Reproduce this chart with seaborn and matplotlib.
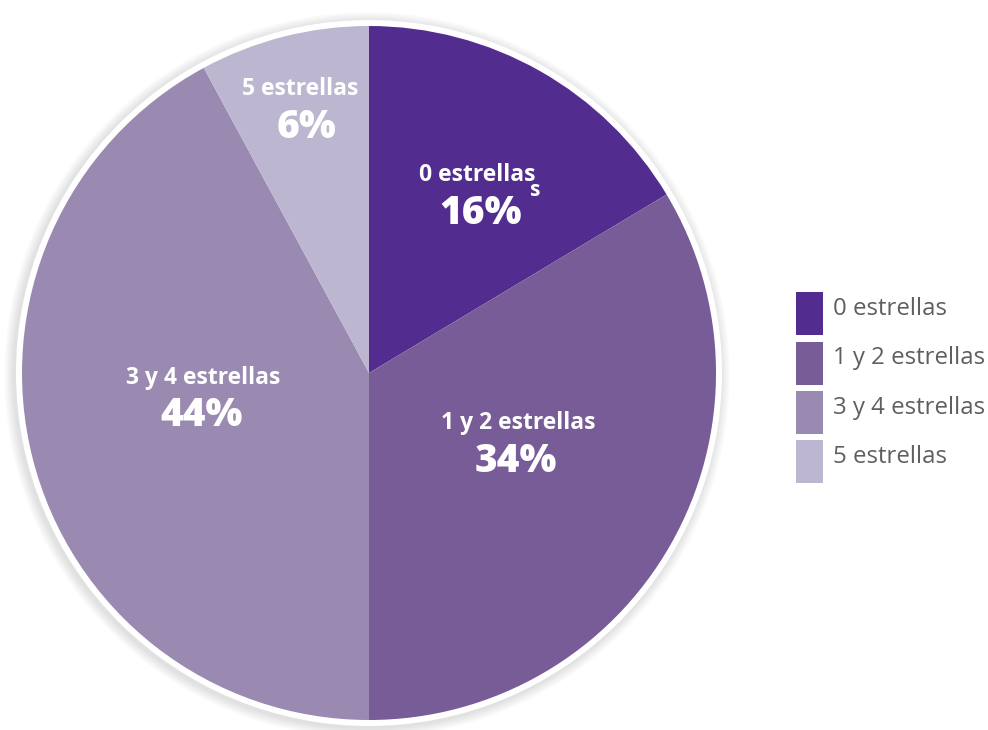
import matplotlib
matplotlib.use('Agg')
import matplotlib.pyplot as plt
import seaborn as sns
from matplotlib.patches import Circle, Patch, Rectangle
from matplotlib.legend_handler import HandlerPatch

# datos
categorias = ['0 estrellas', '1 y 2 estrellas', '3 y 4 estrellas', '5 estrellas']
porcentajes = [16.4, 33.6, 42.1, 7.9]   # tamano de cada porcion tal como se dibuja
etiquetas_pct = ['16%', '34%', '44%', '6%']
colores = ['#522D8F', '#785C97', '#9A89B1', '#BDB6D0']

sns.set_theme(style='white')
plt.rcParams['font.family'] = ['Open Sans', 'DejaVu Sans']

fig = plt.figure(figsize=(9.88, 7.3), dpi=100)
ax = fig.add_axes([0, 0, 1, 1])
ax.set_xlim(0, 988)
ax.set_ylim(0, 730)
ax.set_aspect('equal')
ax.axis('off')

cx, cy, R = 369, 357, 347

# sombra suave y borde blanco
for i in range(10):
    ax.add_patch(Circle((cx - 2, cy - 2), R + 16 - i, color='#000000', alpha=0.012, lw=0))
ax.add_patch(Circle((cx, cy), R + 6, color='white', lw=0))

wedges, _ = ax.pie(porcentajes, colors=colores, startangle=90, counterclock=False,
                   radius=R, center=(cx, cy), wedgeprops=dict(linewidth=0))
ax.set_xlim(0, 988)
ax.set_ylim(0, 730)

# posiciones de las etiquetas (pixeles desde arriba)
pos_nombre = [(477, 175), (518, 423), (203, 378), (300, 89)]
pos_pct = [(481, 213), (516, 462), (202, 416), (306, 128)]
for nombre, pct, (xn, yn), (xp, yp) in zip(categorias, etiquetas_pct, pos_nombre, pos_pct):
    ax.text(xn, 730 - yn, nombre, color='white', fontsize=16.5, fontweight='bold',
            ha='center', va='center')
    ax.text(xp, 730 - yp, pct, color='white', fontsize=28, fontweight='heavy',
            ha='center', va='center')
# la "s" suelta del original
ax.text(535, 730 - 190, 's', color='white', fontsize=15, fontweight='bold',
        ha='center', va='center')


# cuadro de leyenda un poco mas abajo que el texto
def caja(legend, orig_handle, xdescent, ydescent, width, height, fontsize):
    return Rectangle((-xdescent, -ydescent - 4.5), width, height)


handles = [Patch(facecolor=c, edgecolor='none') for c in colores]
fig.legend(handles, categorias, loc='upper left', bbox_to_anchor=(796 / 988, 1 - 286 / 730),
           frameon=False, fontsize=17.3, labelcolor='#5f5f5f', borderpad=0, borderaxespad=0,
           handlelength=1.12, handleheight=2.38, labelspacing=0.26, handletextpad=0.42,
           handler_map={Patch: HandlerPatch(patch_func=caja)})

fig.savefig('out.png', dpi=100)
